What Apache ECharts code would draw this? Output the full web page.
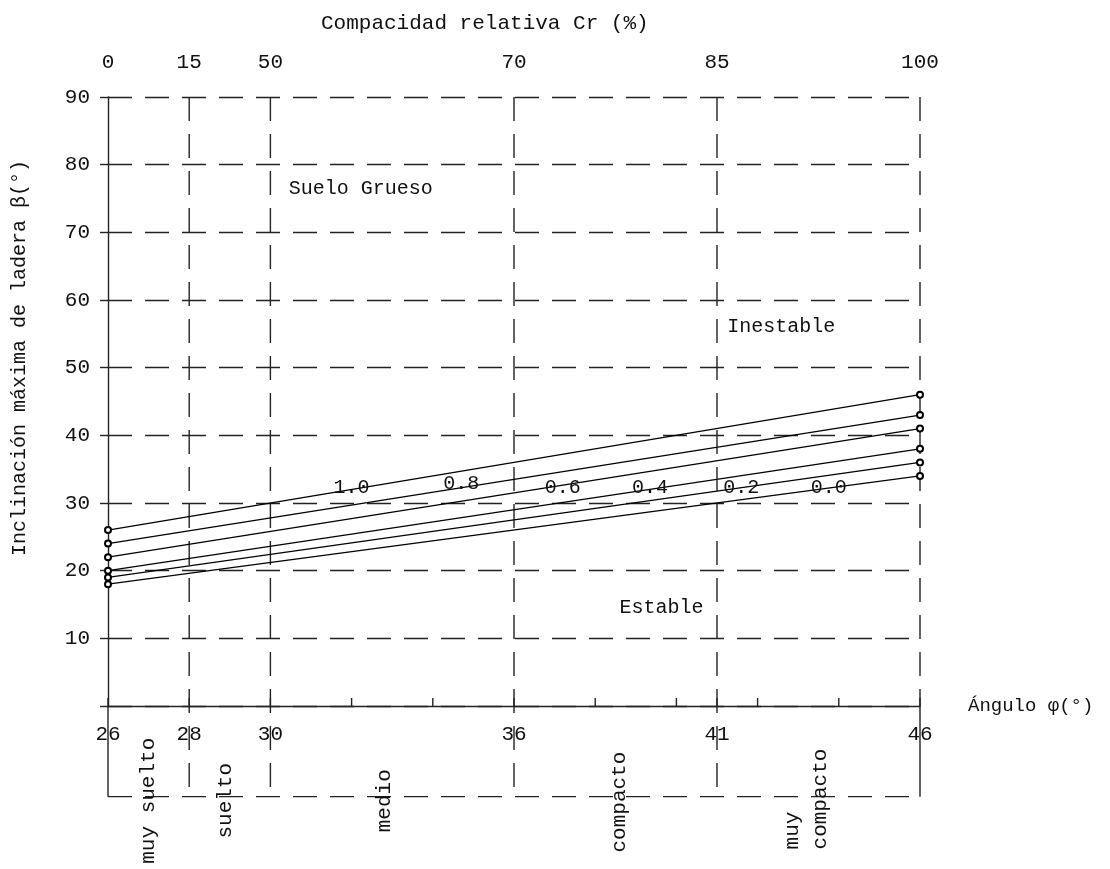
<!DOCTYPE html>
<html>
<head>
<meta charset="utf-8">
<script src="https://cdn.jsdelivr.net/npm/echarts@6/dist/echarts.min.js"></script>
<style>
html,body{margin:0;padding:0;background:#fff;}
#chart{width:1110px;height:869px;}
</style>
</head>
<body>
<div id="chart"></div>
<script>
// ---- data ----
const angleLabels = [26, 28, 30, 36, 41, 46];
const crLabels = ['0', '15', '50', '70', '85', '100'];
const minorTicks = [32, 34, 38, 40, 42, 44];
const gridVerticals = [28, 30, 36, 41];
const lineAngles = [26, 46];
const betaAt26 = [26, 24, 22, 20, 19, 18];
const betaAt46 = [46, 43, 41, 38, 36, 34];
const curveNames = ['1.0', '0.8', '0.6', '0.4', '0.2', '0.0'];
const curveLabelX = [32.0, 34.7, 37.2, 39.35, 41.6, 43.75];
const curveLabelY = [32.2, 32.8, 32.3, 32.2, 32.2, 32.3];
const zoneNames = ['muy suelto', 'suelto', 'medio', 'compacto', 'muy\ncompacto'];
const zoneX = [27.0, 28.9, 32.8, 38.6, 43.2];
const zoneY = [-14.0, -14.0, -14.0, -14.2, -21.2];
const zoneAlign = ['center', 'center', 'center', 'center', 'left'];
const noteTexts = ['Suelo Grueso', 'Inestable', 'Estable'];
const noteX = [30.45, 41.25, 38.6];
const noteY = [76.5, 56.1, 14.6];

// ---- layout constants ----
const FONT = '"Liberation Mono", "DejaVu Sans Mono", monospace';
const BOX_BOTTOM = -13.4;   // lower classification box (in y units)
const DASH = [24, 13];
const INK = '#222';

const chart = echarts.init(document.getElementById('chart'));

const lineSeries = betaAt26.map((b, i) => ({
  type: 'line',
  name: curveNames[i],
  data: [[lineAngles[0], b], [lineAngles[1], betaAt46[i]]],
  symbol: 'emptyCircle',
  symbolSize: 6,
  lineStyle: { color: '#000', width: 1.3 },
  itemStyle: { color: '#000', borderWidth: 1.3 },
  z: 5,
  silent: true
}));

function fmtAngle(v) { return angleLabels.indexOf(v) >= 0 ? String(v) : ''; }
function fmtCr(v) { const k = angleLabels.indexOf(v); return k >= 0 ? crLabels[k] : ''; }

// frame / grid decorations drawn through the axes scales
const frameSeries = {
  type: 'custom',
  coordinateSystem: 'cartesian2d',
  clip: false,
  silent: true,
  z: 2,
  data: [0],
  renderItem: function (params, api) {
    const ch = [];
    const ln = (a, b, dash, w) => ({
      type: 'line',
      shape: { x1: a[0], y1: a[1], x2: b[0], y2: b[1] },
      style: { stroke: INK, lineWidth: w || 1.4, lineDash: dash || null }
    });
    gridVerticals.forEach(x => ch.push(ln(api.coord([x, 90]), api.coord([x, BOX_BOTTOM]), DASH)));
    ch.push(ln(api.coord([46, 90]), api.coord([46, 0]), DASH));
    ch.push(ln(api.coord([46, 0]), api.coord([46, BOX_BOTTOM]), null));
    ch.push(ln(api.coord([26, 0]), api.coord([26, BOX_BOTTOM]), null));
    ch.push(ln(api.coord([26, BOX_BOTTOM]), api.coord([46, BOX_BOTTOM]), DASH));
    minorTicks.concat(angleLabels).forEach(x => {
      const p = api.coord([x, 0]);
      ch.push(ln([p[0], p[1]], [p[0], p[1] - 8], null, 1.4));
    });
    return { type: 'group', children: ch };
  }
};

const textItems = [];
curveNames.forEach((t, i) => textItems.push({ x: curveLabelX[i], y: curveLabelY[i], t: t, rot: 0, align: 'center', size: 20 }));
noteTexts.forEach((t, i) => textItems.push({ x: noteX[i], y: noteY[i], t: t, rot: 0, align: 'left', size: 20 }));
zoneNames.forEach((t, i) => textItems.push({ x: zoneX[i], y: zoneY[i], t: t, rot: Math.PI / 2, align: zoneAlign[i], size: 21 }));

const textSeries = {
  type: 'custom',
  coordinateSystem: 'cartesian2d',
  clip: false,
  silent: true,
  z: 6,
  data: textItems.map((d, i) => [d.x, d.y, i]),
  renderItem: function (params, api) {
    const d = textItems[api.value(2)];
    const p = api.coord([d.x, d.y]);
    return {
      type: 'text',
      x: p[0], y: p[1],
      rotation: d.rot,
      style: {
        text: d.t,
        fill: '#111',
        font: d.size + 'px ' + FONT,
        align: d.align,
        verticalAlign: 'middle',
        lineHeight: 28
      }
    };
  }
};

const option = {
  backgroundColor: '#fff',
  animation: false,
  title: {
    text: 'Compacidad relativa Cr (%)',
    left: 316, top: 8,
    textStyle: { fontFamily: FONT, fontSize: 21, fontWeight: 'normal', color: '#111' }
  },
  graphic: [{
    type: 'text',
    left: 10, top: 160,
    rotation: Math.PI / 2,
    style: { text: 'Inclinación máxima de ladera β(°)', font: '20px ' + FONT, fill: '#111' }
  }],
  grid: { left: 108, right: 190, top: 97, bottom: 163 },
  xAxis: [{
    type: 'value', position: 'bottom', min: 26, max: 46, interval: 1,
    name: 'Ángulo φ(°)', nameLocation: 'end', nameGap: 48,
    nameTextStyle: { fontFamily: FONT, fontSize: 19, color: '#111' },
    axisLine: { show: true, lineStyle: { color: INK, width: 1.4 } },
    axisTick: { show: false },
    splitLine: { show: false },
    axisLabel: { formatter: fmtAngle, margin: 18, fontFamily: FONT, fontSize: 21, color: '#111' }
  }, {
    type: 'value', position: 'top', min: 26, max: 46, interval: 1,
    axisLine: { show: false }, axisTick: { show: false }, splitLine: { show: false },
    axisLabel: { formatter: fmtCr, margin: 24, fontFamily: FONT, fontSize: 21, color: '#111' }
  }],
  yAxis: {
    type: 'value', min: 0, max: 90, interval: 10,
    axisLine: { show: true, lineStyle: { color: INK, width: 1.4 } },
    axisTick: { show: true, length: 8, lineStyle: { color: INK, width: 1.4 } },
    axisLabel: { formatter: v => v === 0 ? '' : String(v), margin: 18, fontFamily: FONT, fontSize: 21, color: '#111' },
    splitLine: { show: true, lineStyle: { color: INK, width: 1.4, type: DASH } }
  },
  series: [frameSeries].concat(lineSeries).concat([textSeries])
};
chart.setOption(option);
</script>
</body>
</html>
